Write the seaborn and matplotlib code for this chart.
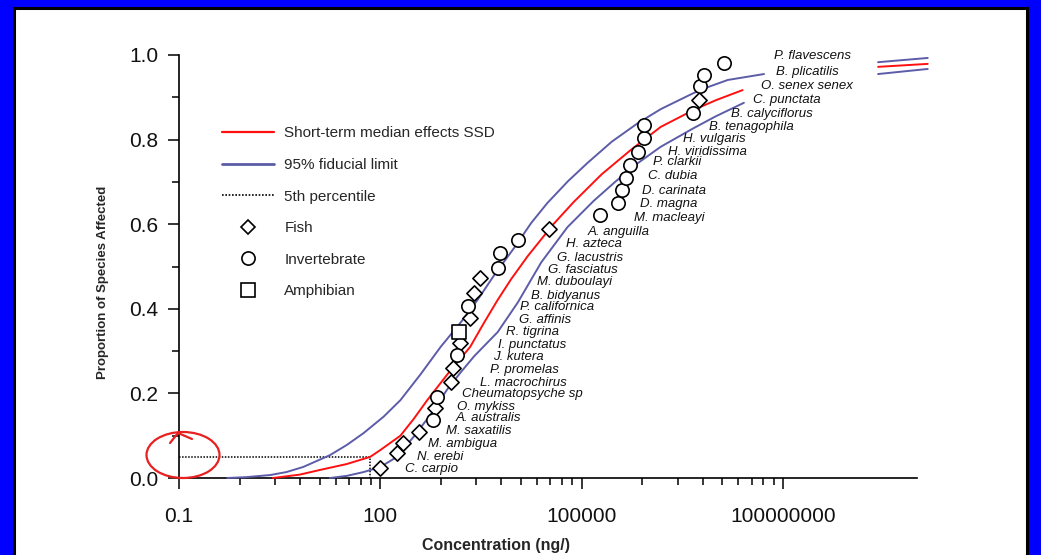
import numpy as np
import pandas as pd
import matplotlib
matplotlib.use("Agg")
import matplotlib.pyplot as plt
import seaborn as sns
from matplotlib.lines import Line2D
from matplotlib.patches import Rectangle, Ellipse
from matplotlib.ticker import FixedLocator, FixedFormatter, NullFormatter

# ================================
# Data
# ================================
species = ['C. carpio', 'N. erebi', 'M. ambigua', 'M. saxatilis', 'A. australis',
           'O. mykiss', 'Cheumatopsyche sp', 'L. macrochirus', 'P. promelas', 'J. kutera',
           'I. punctatus', 'R. tigrina', 'G. affinis', 'P. californica', 'B. bidyanus',
           'M. duboulayi', 'G. fasciatus', 'G. lacustris', 'H. azteca', 'A. anguilla',
           'M. macleayi', 'D. magna', 'D. carinata', 'C. dubia', 'P. clarkii',
           'H. viridissima', 'H. vulgaris', 'B. tenagophila', 'B. calyciflorus', 'C. punctata',
           'O. senex senex', 'B. plicatilis', 'P. flavescens']
taxon = ['Fish', 'Fish', 'Fish', 'Fish', 'Invertebrate',
         'Fish', 'Invertebrate', 'Fish', 'Fish', 'Invertebrate',
         'Fish', 'Amphibian', 'Fish', 'Invertebrate', 'Fish',
         'Fish', 'Invertebrate', 'Invertebrate', 'Invertebrate', 'Fish',
         'Invertebrate', 'Invertebrate', 'Invertebrate', 'Invertebrate', 'Invertebrate',
         'Invertebrate', 'Invertebrate', 'Invertebrate', 'Invertebrate', 'Fish',
         'Invertebrate', 'Invertebrate', 'Invertebrate']
# log10 of concentration (ng/L)
conc_log10 = [2.00, 2.25, 2.34, 2.57, 2.79, 2.82, 2.85, 3.06, 3.08, 3.15,
              3.19, 3.18, 3.33, 3.31, 3.39, 3.49, 3.75, 3.79, 4.05, 4.52,
              5.27, 5.54, 5.61, 5.67, 5.72, 5.84, 5.93, 5.93, 6.66, 6.75,
              6.76, 6.82, 7.12]
prop = [0.024, 0.059, 0.083, 0.109, 0.137, 0.165, 0.191, 0.227, 0.260, 0.291,
        0.319, 0.345, 0.378, 0.407, 0.437, 0.473, 0.496, 0.532, 0.562, 0.589,
        0.622, 0.650, 0.681, 0.709, 0.740, 0.771, 0.804, 0.835, 0.863, 0.894,
        0.927, 0.953, 0.981]

# SSD curve and fiducial limits (log10 conc, proportion)
median_log10 = [0.40, 0.80, 1.10, 1.50, 1.85, 2.00, 2.30, 2.50, 2.70, 3.00,
                3.34, 3.55, 3.75, 3.95, 4.20, 4.58, 4.88, 5.30, 5.73, 6.18,
                6.67, 7.00, 7.40]
median_p = [0.0, 0.008, 0.019, 0.033, 0.050, 0.066, 0.100, 0.140, 0.184, 0.245,
            0.310, 0.368, 0.421, 0.470, 0.525, 0.600, 0.652, 0.718, 0.775, 0.830,
            0.870, 0.893, 0.917]
upper_log10 = [-0.28, 0.00, 0.36, 0.60, 0.85, 1.25, 1.50, 1.75, 2.05, 2.30,
               2.60, 2.90, 3.20, 3.45, 3.70, 4.00, 4.25, 4.49, 4.80, 5.09,
               5.45, 5.84, 6.18, 6.45, 6.67, 6.90, 7.18, 7.72]
upper_p = [0.0, 0.002, 0.007, 0.014, 0.026, 0.054, 0.078, 0.106, 0.145, 0.184,
           0.245, 0.310, 0.368, 0.421, 0.480, 0.545, 0.603, 0.650, 0.702, 0.745,
           0.795, 0.839, 0.872, 0.893, 0.910, 0.925, 0.941, 0.955]
lower_log10 = [1.25, 1.50, 1.75, 2.00, 2.25, 2.50, 2.75, 3.00, 3.20, 3.40,
               3.75, 4.05, 4.40, 4.79, 5.18, 5.50, 5.80, 6.18, 6.67, 7.00,
               7.42]
lower_p = [0.0, 0.005, 0.014, 0.026, 0.050, 0.098, 0.150, 0.210, 0.250, 0.288,
           0.345, 0.415, 0.510, 0.593, 0.655, 0.700, 0.740, 0.783, 0.827, 0.855,
           0.887]
# the bits of the curves that show again right of the labels
tail_log10 = [9.42, 10.16]
median_tail_p = [0.972, 0.979]
upper_tail_p = [0.983, 0.993]
lower_tail_p = [0.955, 0.967]

hc5 = 70      # 5th percentile concentration
hc5_p = 0.05

x_ticks = [0.1, 100, 100000, 100000000]
x_ticklabels = ['0.1', '100', '100000', '100000000']
y_ticks = [0.0, 0.2, 0.4, 0.6, 0.8, 1.0]

# label offsets from their point (pixels: right, down)
label_dx = [25, 20, 25, 27, 22, 22, 25, 29, 37, 36, 38, 47, 49, 52, 57, 57, 50,
            57, 48, 38, 34, 22, 20, 22, 23, 30, 39, 65, 38, 54, 61, 72, 50]
label_dy = [1, 4, 1, -1, -2, -1, -3, 1, 2, 2, 2, 0, 2, 1, 3, 4, 2, 5, 4, 3, 3,
            1, 1, -2, -3, 0, 1, 2, 1, 0, 0, -3, -7]

# ================================
# Figure
# ================================
sns.set_theme(style='white')
plt.rcParams['font.family'] = ['Liberation Sans', 'DejaVu Sans']

W, H = 1041, 555
fig = plt.figure(figsize=(W / 100, H / 100), dpi=100)
fig.patch.set_facecolor('#0000fe')
fig.add_artist(Rectangle((14 / W, -0.05), 1013 / W, 1.05 - 8 / H,
                         transform=fig.transFigure, facecolor='white',
                         edgecolor='black', linewidth=2.2, zorder=0))

ax = fig.add_axes([179 / W, 1 - 478 / H, 738 / W, 423 / H])
ax.patch.set_alpha(0)
ax.set_xscale('log')

RED = '#ff1010'
BLUE = '#5c5ca8'

pts = pd.DataFrame({'species': species, 'taxon': taxon,
                    'conc': 10 ** np.array(conc_log10), 'prop': prop})

curves = [(median_log10, median_p, RED), (upper_log10, upper_p, BLUE),
          (lower_log10, lower_p, BLUE), (tail_log10, median_tail_p, RED),
          (tail_log10, upper_tail_p, BLUE), (tail_log10, lower_tail_p, BLUE)]
for lx, py, col in curves:
    sns.lineplot(x=10 ** np.array(lx), y=py, color=col, linewidth=1.4,
                 sort=False, estimator=None, ax=ax, clip_on=False, zorder=3)

# 5th percentile
ax.plot([0.1, hc5, hc5], [hc5_p, hc5_p, 0], color='black', linewidth=1.1,
        linestyle=(0, (1, 1)), zorder=2)

# species points
marker_style = {'Fish': ('D', 60), 'Invertebrate': ('o', 92), 'Amphibian': ('s', 105)}
for grp, (mk, sz) in marker_style.items():
    sub = pts[pts['taxon'] == grp]
    sns.scatterplot(data=sub, x='conc', y='prop', marker=mk, s=sz, color='white',
                    edgecolor='black', linewidth=1.2, zorder=5, ax=ax, clip_on=False)

for i, row in pts.iterrows():
    ax.annotate(row['species'], (row['conc'], row['prop']),
                xytext=(label_dx[i] * 0.72, -label_dy[i] * 0.72),
                textcoords='offset points', fontsize=9.5, style='italic',
                ha='left', va='center', color='#111111', zorder=4)

# axes
ax.set_xlim(0.1, 1e10)
ax.set_ylim(0, 1)
sns.despine(ax=ax)
for s in ['left', 'bottom']:
    ax.spines[s].set_color('black')
    ax.spines[s].set_linewidth(1.2)

ax.xaxis.set_major_locator(FixedLocator(x_ticks))
ax.xaxis.set_major_formatter(FixedFormatter(x_ticklabels))
minor_x = [t * 1000 ** np.log10(k) for t in x_ticks[:-1] for k in range(2, 10)]
ax.xaxis.set_minor_locator(FixedLocator(minor_x))
ax.xaxis.set_minor_formatter(NullFormatter())
ax.yaxis.set_major_locator(FixedLocator(y_ticks))
ax.yaxis.set_major_formatter(FixedFormatter([f'{v:.1f}' for v in y_ticks]))
ax.yaxis.set_minor_locator(FixedLocator([0.1, 0.3, 0.5, 0.7, 0.9]))

ax.tick_params(which='both', direction='out', color='black', width=1.1,
               bottom=True, left=True)
ax.tick_params(which='major', length=8, labelsize=15, labelcolor='#111111')
ax.tick_params(which='minor', length=5)
ax.tick_params(axis='x', which='major', pad=13)
ax.tick_params(axis='y', which='major', pad=7)

ax.set_xlabel('Concentration (ng/)', fontsize=11.5, fontweight='bold')
ax.xaxis.set_label_coords(0.43, -0.142)
ax.set_ylabel('Proportion of Species Affected', fontsize=9.5, fontweight='bold')
ax.yaxis.set_label_coords(-0.095, 0.463)

# legend
handles = [Line2D([], [], color=RED, linewidth=1.6),
           Line2D([], [], color=BLUE, linewidth=2.0),
           Line2D([], [], color='black', linewidth=1.2, linestyle=(0, (1, 1))),
           Line2D([], [], marker='D', linestyle='none', markerfacecolor='white',
                  markeredgecolor='black', markersize=7, markeredgewidth=1.2),
           Line2D([], [], marker='o', linestyle='none', markerfacecolor='white',
                  markeredgecolor='black', markersize=9.5, markeredgewidth=1.2),
           Line2D([], [], marker='s', linestyle='none', markerfacecolor='white',
                  markeredgecolor='black', markersize=10, markeredgewidth=1.2)]
labels = ['Short-term median effects SSD', '95% fiducial limit', '5th percentile',
          'Fish', 'Invertebrate', 'Amphibian']
ax.legend(handles, labels, loc='upper left', bbox_to_anchor=(0.058, 0.831),
          frameon=False, fontsize=11, handlelength=3.4, handletextpad=0.7,
          labelspacing=1.15, borderpad=0, borderaxespad=0)

# hand-drawn red circle on the slide
fig.add_artist(Ellipse((183 / W, 1 - 455 / H), 73 / W, 46 / H, transform=fig.transFigure,
                       fill=False, edgecolor='#e82020', linewidth=1.6, zorder=10))
fig.add_artist(Line2D([170 / W, 178 / W, 192 / W],
                      [1 - 443 / H, 1 - 433 / H, 1 - 439 / H],
                      transform=fig.transFigure, color='#e82020', linewidth=1.6, zorder=10))

plt.savefig('out.png', dpi=100)
plt.close()
